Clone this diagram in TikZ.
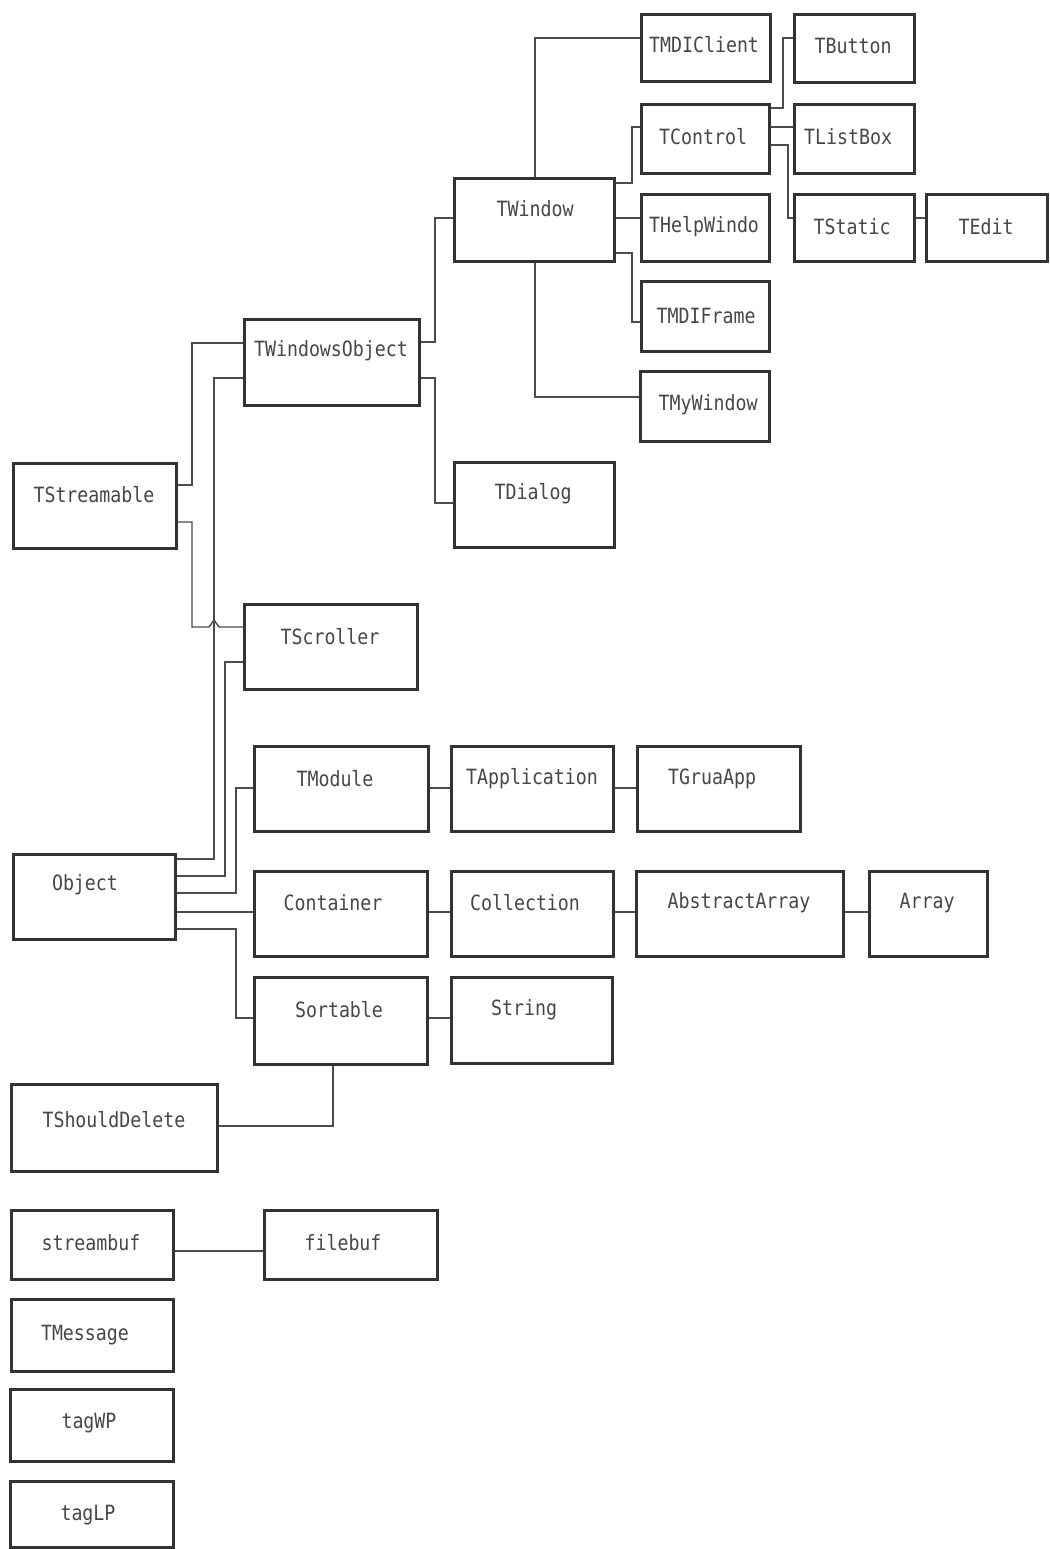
\documentclass[tikz,border=0pt]{standalone}
\usepackage{fontspec}
\newfontfamily\dotfont[FakeStretch=0.87]{DejaVu Sans Mono}
% class box: name, x1, y1, x2, y2, text, text x, text y
\newcommand\klass[8]{%
  \node[boxs, minimum width={(#4-#2)*1pt}, minimum height={(#5-#3)*1pt}] (#1) at (#2,#3) {};
  \node[lbl] (#1-l) at (#7,#8) {#6};}
\begin{document}
\begin{tikzpicture}[x=1pt,y=-1pt,
  boxs/.style={draw=black!80, line width=2.6pt, inner sep=0pt, anchor=north west},
  lbl/.style={font=\dotfont\fontsize{21}{24}\selectfont, text=black!72, inner sep=0pt},
  wire/.style={draw=black!70, line width=1.4pt}]
\useasboundingbox[fill=white] (0,0) rectangle (1049,1549);

% ---- classes ----
\klass{tmdic}{640}{13}{769}{80}{TMDIClient}{704}{45}
\klass{tbutton}{793}{13}{913}{81}{TButton}{853}{46}
\klass{tcontrol}{640}{103}{768}{172}{TControl}{703}{137}
\klass{tlistbox}{793}{103}{913}{172}{TListBox}{848}{137}
\klass{twindow}{453}{177}{613}{260}{TWindow}{535}{209}
\klass{thelp}{640}{193}{768}{260}{THelpWindo}{704}{227}
\klass{tstatic}{793}{193}{913}{260}{TStatic}{852}{227}
\klass{tedit}{925}{193}{1046}{260}{TEdit}{986}{227}
\klass{tmdif}{640}{280}{768}{350}{TMDIFrame}{706}{316}
\klass{tmywin}{639}{370}{768}{440}{TMyWindow}{708}{405}
\klass{twobj}{243}{318}{418}{404}{TWindowsObject}{331}{351}
\klass{tdialog}{453}{461}{613}{546}{TDialog}{533}{494}
\klass{tstream}{12}{462}{175}{547}{TStreamable}{94}{495}
\klass{tscroll}{243}{603}{416}{688}{TScroller}{330}{637}
\klass{tmodule}{253}{745}{427}{830}{TModule}{335}{779}
\klass{tapp}{450}{745}{612}{830}{TApplication}{532}{779}
\klass{tgrua}{636}{745}{799}{830}{TGruaApp}{712}{779}
\klass{object}{12}{853}{174}{938}{Object}{85}{885}
\klass{container}{253}{870}{426}{955}{Container}{333}{903}
\klass{collection}{450}{870}{612}{955}{Collection}{525}{903}
\klass{abstract}{635}{870}{842}{955}{AbstractArray}{739}{903}
\klass{array}{868}{870}{986}{955}{Array}{927}{903}
\klass{sortable}{253}{976}{426}{1063}{Sortable}{339}{1010}
\klass{string}{450}{976}{611}{1062}{String}{524}{1010}
\klass{tshould}{10}{1083}{216}{1170}{TShouldDelete}{114}{1120}
\klass{streambuf}{10}{1209}{172}{1278}{streambuf}{91}{1243}
\klass{filebuf}{263}{1209}{436}{1278}{filebuf}{343}{1243}
\klass{tmessage}{10}{1298}{172}{1370}{TMessage}{85}{1335}
\klass{tagwp}{9}{1388}{172}{1460}{tagWP}{89}{1423}
\klass{taglp}{9}{1480}{172}{1546}{tagLP}{88}{1515}

% ---- inheritance lines ----
% TWindow and its descendants
\draw[wire] (twindow.north -| 535,0) |- (tmdic.west |- 0,38);
\draw[wire] (twindow.south -| 535,0) |- (tmywin.west |- 0,397);
\draw[wire] (twindow.east |- 0,183) -| (632,127) -- (tcontrol.west |- 0,127);
\draw[wire] (twindow.east |- 0,218) -- (thelp.west |- 0,218);
\draw[wire] (twindow.east |- 0,253) -| (632,322) -- (tmdif.west |- 0,322);
% TControl and its descendants
\draw[wire] (tcontrol.east |- 0,108) -| (783,38) -- (tbutton.west |- 0,38);
\draw[wire] (tcontrol.east |- 0,127) -- (tlistbox.west |- 0,127);
\draw[wire] (tcontrol.east |- 0,145) -| (788,218) -- (tstatic.west |- 0,218);
\draw[wire] (tstatic.east |- 0,218) -- (tedit.west |- 0,218);
% TWindowsObject
\draw[wire] (twobj.east |- 0,342) -| (435,218) -- (twindow.west |- 0,218);
\draw[wire] (twobj.east |- 0,378) -| (435,503) -- (tdialog.west |- 0,503);
% TStreamable
\draw[wire] (tstream.east |- 0,485) -| (192,343) -- (twobj.west |- 0,343);
\draw[wire] (tstream.east |- 0,522) -| (192,627) -- (209,627) -- (214,620)
  -- (219,627) -- (tscroll.west |- 0,627);
% Object
\draw[wire] (object.east |- 0,859) -| (214,378) -- (twobj.west |- 0,378);
\draw[wire] (object.east |- 0,876) -| (225,662) -- (tscroll.west |- 0,662);
\draw[wire] (object.east |- 0,893) -| (236,788) -- (tmodule.west |- 0,788);
\draw[wire] (object.east |- 0,912) -- (container.west |- 0,912);
\draw[wire] (object.east |- 0,929) -| (236,1018) -- (sortable.west |- 0,1018);
% chains
\draw[wire] (tmodule.east |- 0,788) -- (tapp.west |- 0,788);
\draw[wire] (tapp.east |- 0,788) -- (tgrua.west |- 0,788);
\draw[wire] (container.east |- 0,912) -- (collection.west |- 0,912);
\draw[wire] (collection.east |- 0,912) -- (abstract.west |- 0,912);
\draw[wire] (abstract.east |- 0,912) -- (array.west |- 0,912);
\draw[wire] (sortable.east |- 0,1018) -- (string.west |- 0,1018);
\draw[wire] (sortable.south -| 333,0) |- (tshould.east |- 0,1126);
\draw[wire] (streambuf.east |- 0,1251) -- (filebuf.west |- 0,1251);
\end{tikzpicture}
\end{document}
